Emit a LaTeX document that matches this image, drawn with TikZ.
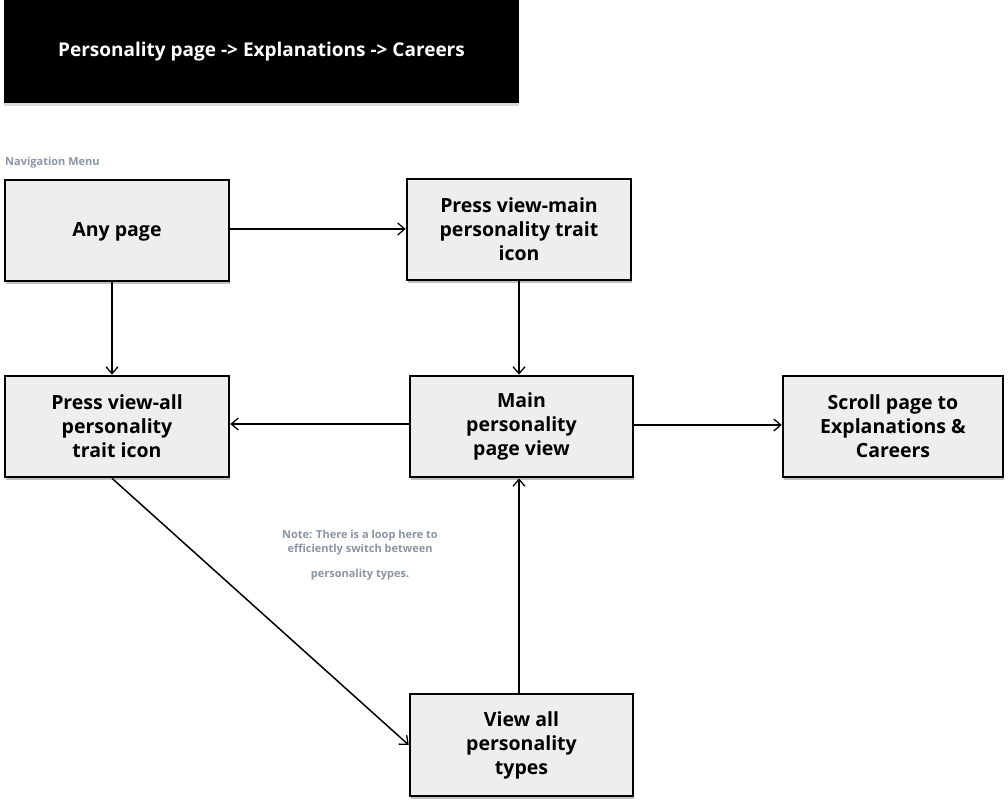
\documentclass[tikz,border=0pt]{standalone}
\usepackage{fontspec}
\setmainfont{Open Sans}
\usetikzlibrary{arrows.meta,shadows}
\definecolor{boxfill}{HTML}{EEEEEE}
\definecolor{notegray}{HTML}{8A94A3}
\begin{document}
\begin{tikzpicture}[x=1pt,y=-1pt,
  flowbox/.style={draw=black,line width=2.6pt,fill=boxfill,inner sep=0pt,
    align=center,font=\fontsize{19.5}{24}\selectfont\bfseries,
    drop shadow={shadow xshift=1pt,shadow yshift=-2.5pt,opacity=0.25,fill=black}},
  conn/.style={line width=1.5pt,-{Straight Barb[length=7pt,width=12pt,line width=1.3pt]}}]
\useasboundingbox (0,0) rectangle (1008,805);
% title
\node[fill=black,minimum width=515pt,minimum height=103pt,inner sep=0pt,
  drop shadow={shadow xshift=0pt,shadow yshift=-3pt,opacity=0.3},
  text=white,font=\fontsize{19}{22}\selectfont\bfseries] (title) at (261.5,51.5)
  {Personality page -> Explanations -> Careers};
\node[anchor=west,text=notegray,font=\fontsize{11}{12}\selectfont\bfseries,inner sep=0pt] (nav) at (5,163) {Navigation Menu};
% boxes
\node[flowbox,minimum width=224pt,minimum height=101pt,text depth=1pt] (any) at (117,230.5) {Any page};
\node[flowbox,minimum width=224pt,minimum height=101pt] (vmain) at (519,229.5) {Press view-main\\personality trait\\icon};
\node[flowbox,minimum width=224pt,minimum height=101pt] (vall) at (117,426.5) {Press view-all\\personality\\trait icon};
\node[flowbox,minimum width=223pt,minimum height=101pt] (main) at (521.5,426.5) {Main\\personality\\page view};
\node[flowbox,minimum width=220pt,minimum height=101pt] (scroll) at (893,426.5) {Scroll page to\\Explanations \&\\Careers};
\node[flowbox,minimum width=223pt,minimum height=102pt] (types) at (521.5,745) {View all\\personality\\types};
% note
\node[text=notegray,font=\fontsize{11}{14}\selectfont\bfseries,align=center,inner sep=0pt] (note1) at (360,543) {Note: There is a loop here to\\efficiently switch between};
\node[text=notegray,font=\fontsize{11}{12}\selectfont\bfseries,inner sep=0pt] (note2) at (360,575) {personality types.};
% connectors
\draw[conn] (any.east |- 0,229) -- (vmain.west |- 0,229);
\draw[conn] (any.south -| 112,0) -- (vall.north -| 112,0);
\draw[conn] (vmain.south) -- (main.north -| vmain.south);
\draw[conn] (main.west |- 0,424) -- (vall.east |- 0,424);
\draw[conn] (main.east |- 0,425) -- (scroll.west |- 0,425);
\draw[conn] (types.north -| 519,0) -- (main.south -| 519,0);
\draw[conn] (vall.south -| 112,0) -- (types.west |- 0,745);
\end{tikzpicture}
\end{document}
